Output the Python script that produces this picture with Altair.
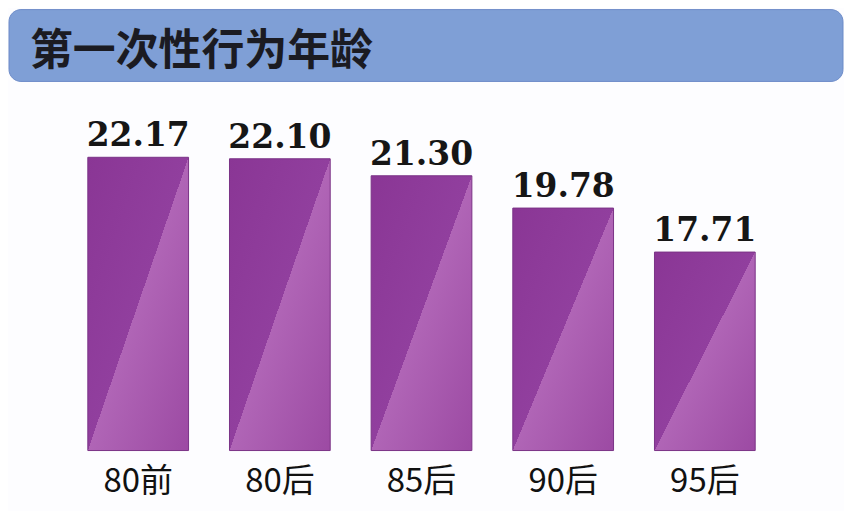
import altair as alt
import pandas as pd

categories = ["80前", "80后", "85后", "90后", "95后"]
values = [22.17, 22.10, 21.30, 19.78, 17.71]
labels = ["22.17", "22.10", "21.30", "19.78", "17.71"]
title_text = "第一次性行为年龄"

df = pd.DataFrame({"cat": categories, "val": values, "lab": labels})

Y_MIN = 8.37
Y_MAX = 29.12
H = 442
W = 836

xenc = alt.X(
    "cat:N",
    sort=categories,
    scale=alt.Scale(range=[58.5, 768.5], paddingInner=0.289, paddingOuter=0.1445),
    axis=alt.Axis(
        title=None, domain=False, ticks=False, tickSize=0, labelPadding=41,
        labelBaseline="alphabetic", labelFont="Noto Sans CJK SC", labelFontSize=33,
        labelColor="#111111", labelAngle=0,
    ),
)
yscale = alt.Scale(domain=[Y_MIN, Y_MAX], zero=False, nice=False)

grad = alt.Gradient(
    gradient="linear",
    x1=0, y1=0, x2=1, y2=1,
    stops=[
        alt.GradientStop(color="#8a3695", offset=0),
        alt.GradientStop(color="#913f9e", offset=0.5),
        alt.GradientStop(color="#b065b6", offset=0.5),
        alt.GradientStop(color="#9c4aa3", offset=1),
    ],
)

bars = alt.Chart(df).mark_bar(color=grad, stroke="#7a3387", strokeWidth=1).encode(
    x=xenc,
    y=alt.Y("val:Q", scale=yscale, axis=None),
    y2=alt.datum(Y_MIN),
)

texts = alt.Chart(df).mark_text(
    font="DejaVu Serif", fontSize=33, fontWeight="bold", color="#161616",
    baseline="alphabetic", dy=-11
).encode(
    x=alt.X("cat:N", sort=categories),
    y=alt.Y("val:Q", scale=yscale),
    text="lab:N",
)

banner_df = pd.DataFrame({"t": [title_text]})
banner = alt.Chart(banner_df).mark_rect(
    fill="#7f9fd6", stroke="#6d8cc8", strokeWidth=1, cornerRadius=12
).encode(
    x=alt.value(0), x2=alt.value(W), y=alt.value(0), y2=alt.value(72)
)
title = alt.Chart(banner_df).mark_text(
    font="Noto Sans CJK SC", fontSize=43, fontWeight="bold", color="#1b1b22",
    align="left", baseline="alphabetic",
).encode(x=alt.value(21), y=alt.value(56), text="t:N")

chart = alt.layer(banner, title, bars, texts).properties(
    width=W, height=H,
    padding={"left": 0, "top": 0, "right": 0, "bottom": 12},
    background="#fdfdff",
).configure_view(stroke=None)

chart.save("out.html", embed_options={"renderer": "svg", "actions": False})
